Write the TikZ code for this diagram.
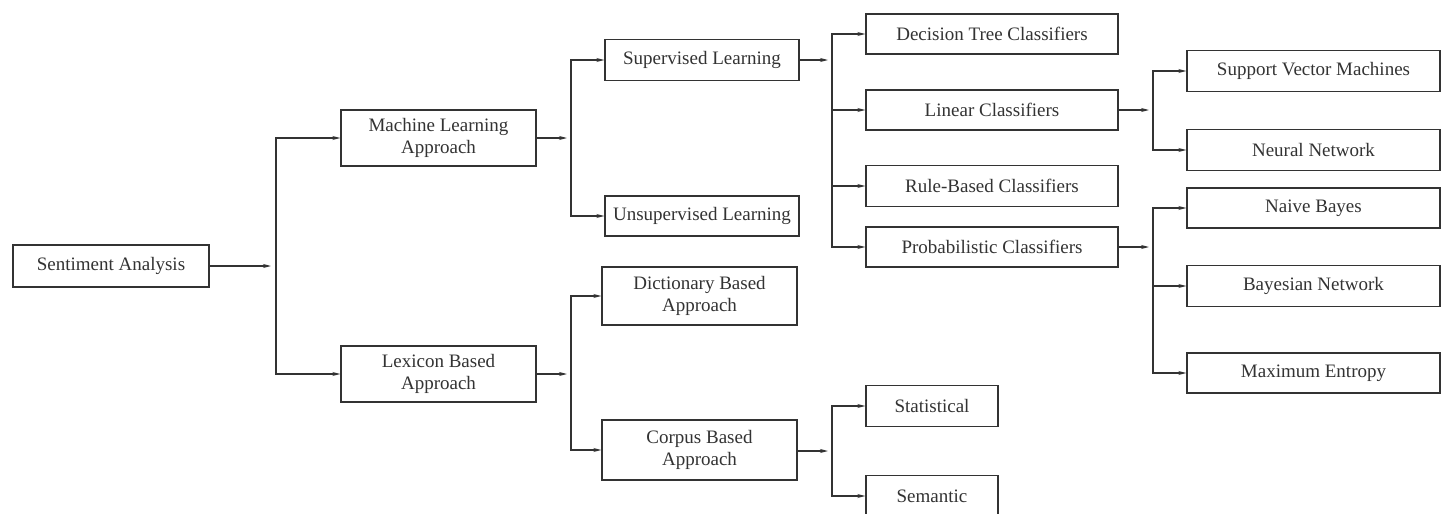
\documentclass[tikz,border=0pt]{standalone}
\usepackage{fontspec}
\setmainfont{Liberation Serif}
\usetikzlibrary{arrows.meta}
\definecolor{ink}{HTML}{333333}
\begin{document}
\begin{tikzpicture}[x=1pt,y=-1pt,
  box/.style={draw=ink, line width=1.3pt, text=ink, rectangle, inner sep=0pt, align=center,
    font=\fontsize{19}{22}\selectfont},
  arr/.style={draw=ink, line width=1.3pt, -{Stealth[length=8pt,width=4pt]}},
  ln/.style={draw=ink, line width=1.3pt}]
\useasboundingbox (0,0) rectangle (1446,514);
\fill[white] (0,0) rectangle (1446,514);
% nodes
\node[box, minimum width=196pt, minimum height=42pt] (sa) at (111,266) {Sentiment Analysis};
\node[box, minimum width=195pt, minimum height=56pt] (ml) at (438.5,138) {Machine Learning\\Approach};
\node[box, minimum width=195pt, minimum height=56pt] (lex) at (438.5,374) {Lexicon Based\\Approach};
\node[box, minimum width=194pt, minimum height=41pt] (sup) at (702,60) {Supervised Learning};
\node[box, minimum width=194pt, minimum height=40pt] (unsup) at (702,216) {Unsupervised Learning};
\node[box, minimum width=195pt, minimum height=58pt] (dict) at (699.5,296) {Dictionary Based\\Approach};
\node[box, minimum width=195pt, minimum height=60pt] (corp) at (699.5,450) {Corpus Based\\Approach};
\node[box, minimum width=252pt, minimum height=40pt] (dt) at (992,34) {Decision Tree Classifiers};
\node[box, minimum width=252pt, minimum height=40pt] (lin) at (992,110) {Linear Classifiers};
\node[box, minimum width=252pt, minimum height=41pt] (rule) at (992,186) {Rule-Based Classifiers};
\node[box, minimum width=252pt, minimum height=40pt] (prob) at (992,247) {Probabilistic Classifiers};
\node[box, minimum width=132pt, minimum height=41pt] (stat) at (932,406) {Statistical};
\node[box, minimum width=132pt, minimum height=41pt] (sem) at (932,496) {Semantic};
\node[box, minimum width=253pt, minimum height=41pt] (svm) at (1313.5,71) {Support Vector Machines};
\node[box, minimum width=253pt, minimum height=41pt] (nn) at (1313.5,150) {Neural Network};
\node[box, minimum width=253pt, minimum height=40pt] (nb) at (1313.5,208) {Naive Bayes};
\node[box, minimum width=253pt, minimum height=41pt] (bn) at (1313.5,286) {Bayesian Network};
\node[box, minimum width=253pt, minimum height=40pt] (me) at (1313.5,373) {Maximum Entropy};
% bus coordinates
\coordinate (b1) at (276,266);   \coordinate (b1in) at (271,266);
\coordinate (b2) at (571,138);   \coordinate (b2in) at (567,138);
\coordinate (b3) at (571,374);   \coordinate (b3in) at (567,374);
\coordinate (b4) at (832,60);    \coordinate (b4in) at (828,60);
\coordinate (b5) at (832,451);   \coordinate (b5in) at (828,451);
\coordinate (b6) at (1153,110);  \coordinate (b6in) at (1149,110);
\coordinate (b7) at (1153,247);  \coordinate (b7in) at (1149,247);
% connectors into buses
\draw[arr] (sa.east) -- (b1in);
\draw[arr] (ml.east) -- (b2in);
\draw[arr] (lex.east) -- (b3in);
\draw[arr] (sup.east|-b4) -- (b4in);
\draw[arr] (corp.east|-b5) -- (b5in);
\draw[arr] (lin.east) -- (b6in);
\draw[arr] (prob.east) -- (b7in);
% buses to children
\draw[arr] (b1) |- (ml.west);
\draw[arr] (b1) |- (lex.west);
\draw[arr] (b2) |- (sup.west);
\draw[arr] (b2) |- (unsup.west);
\draw[arr] (b3) |- (dict.west);
\draw[arr] (b3) |- (corp.west);
\draw[arr] (b4) |- (dt.west);
\draw[arr] (b4) |- (lin.west);
\draw[arr] (b4) |- (rule.west);
\draw[arr] (b4) |- (prob.west);
\draw[arr] (b5) |- (stat.west);
\draw[arr] (b5) |- (sem.west);
\draw[arr] (b6) |- (svm.west);
\draw[arr] (b6) |- (nn.west);
\draw[arr] (b7) |- (nb.west);
\draw[arr] (b7) |- (bn.west);
\draw[arr] (b7) |- (me.west);
\end{tikzpicture}
\end{document}
